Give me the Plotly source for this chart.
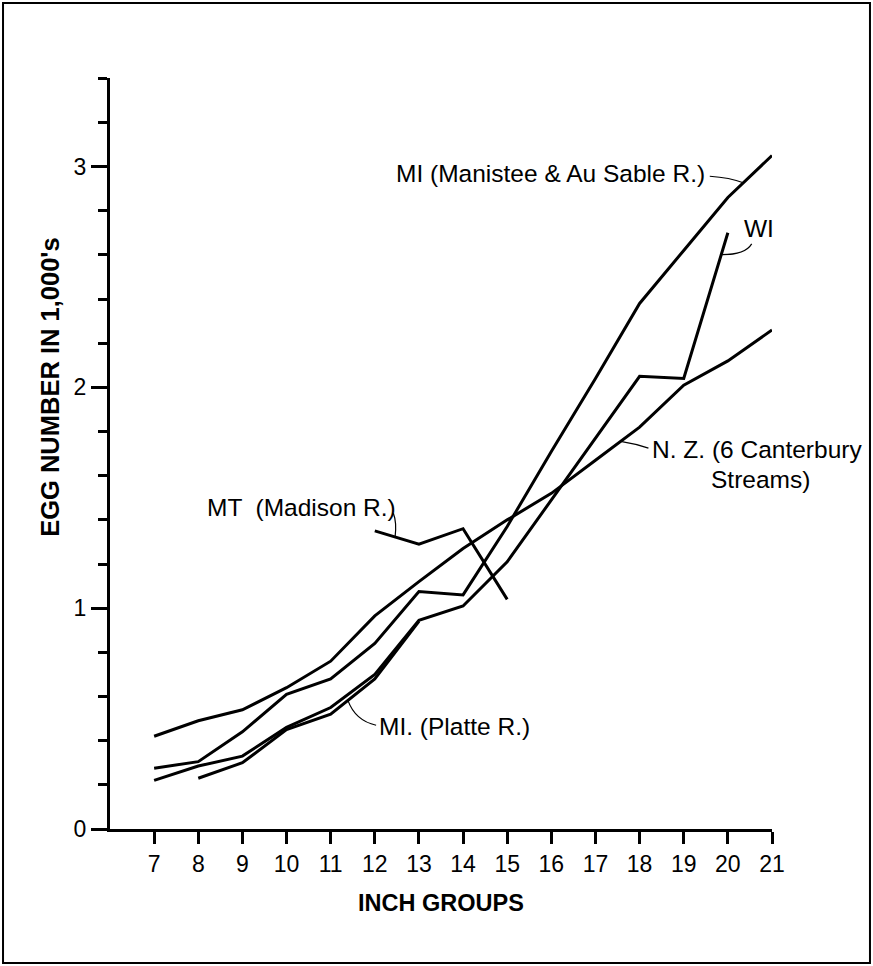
import numpy as np
import plotly.graph_objects as go

# ---- data (egg number in 1,000's by inch group) ----
inch_all = list(range(7, 22))
nz_vals = [0.42, 0.49, 0.54, 0.64, 0.76, 0.965, 1.12, 1.27, 1.40, 1.52, 1.67, 1.82, 2.01, 2.12, 2.26]
mi_manistee_vals = [0.275, 0.305, 0.44, 0.61, 0.68, 0.84, 1.075, 1.06, 1.37, 1.71, 2.04, 2.38, 2.62, 2.86, 3.05]
wi_inch = list(range(7, 21))
wi_vals = [0.22, 0.285, 0.33, 0.46, 0.55, 0.70, 0.945, 1.01, 1.21, 1.49, 1.77, 2.05, 2.04, 2.70]
platte_inch = list(range(8, 14))
platte_vals = [0.23, 0.30, 0.45, 0.52, 0.68, 0.94]
mt_inch = [12, 13, 14, 15]
mt_vals = [1.35, 1.29, 1.36, 1.04]

x_ticks = list(range(7, 22))
y_ticks = [0, 1, 2, 3]

FONT = "Liberation Sans, Arial, sans-serif"
LW = 3

fig = go.Figure()
series = [
    (inch_all, nz_vals, "N.Z."),
    (inch_all, mi_manistee_vals, "MI Manistee"),
    (wi_inch, wi_vals, "WI"),
    (platte_inch, platte_vals, "MI Platte"),
    (mt_inch, mt_vals, "MT"),
]
for xs, ys, name in series:
    fig.add_trace(go.Scatter(x=xs, y=ys, mode="lines", name=name,
                             line=dict(color="black", width=LW),
                             showlegend=False, hoverinfo="skip"))

def on(xs, ys, x):
    return float(np.interp(x, xs, ys))

# text labels
anns = []
def txt(x, y, t, xa="left", ya="middle"):
    anns.append(dict(x=x, y=y, xref="x", yref="y", text=t, showarrow=False,
                     xanchor=xa, yanchor=ya, font=dict(family=FONT, size=24.5, color="black")))

txt(19.53, 2.97, "MI (Manistee &amp; Au Sable R.)", xa="right")
txt(20.32, 2.72, "WI")
txt(18.23, 1.72, "N. Z. (6 Canterbury")
txt(19.58, 1.585, "Streams)")
txt(8.15, 1.458, "MT  (Madison R.)")
txt(12.05, 0.462, "MI. (Platte R.)")

# leader lines (curved)
shapes = []
def leader(x0, y0, cx, cy, x1, y1):
    shapes.append(dict(type="path", xref="x", yref="y",
                       path=f"M {x0},{y0} Q {cx},{cy} {x1},{y1}",
                       line=dict(color="black", width=1.2)))

tx = 20.35
leader(19.59, 2.956, 20.05, 2.95, tx, on(inch_all, mi_manistee_vals, tx))
tx = 19.85
leader(20.54, 2.65, 20.39, 2.60, tx, on(wi_inch, wi_vals, tx))
tx = 17.57
leader(18.2, 1.725, 17.9, 1.745, tx, on(inch_all, nz_vals, tx))
tx = 12.46
leader(12.42, 1.43, 12.5, 1.39, tx, on(mt_inch, mt_vals, tx))
tx = 11.39
leader(12.03, 0.47, 11.56, 0.49, tx, on(platte_inch, platte_vals, tx))

# axis titles
anns.append(dict(x=0.5, y=-0.098, xref="paper", yref="paper", text="<b>INCH GROUPS</b>",
                 showarrow=False, xanchor="center", yanchor="middle",
                 font=dict(family=FONT, size=23.5, color="black")))
anns.append(dict(x=-0.09, y=0.588, xref="paper", yref="paper", text="<b>EGG NUMBER IN 1,000's</b>",
                 showarrow=False, xanchor="center", yanchor="middle", textangle=-90,
                 font=dict(family=FONT, size=25.5, color="black")))

# outer frame
shapes.append(dict(type="rect", xref="paper", yref="paper",
                   x0=-0.1616, x1=1.148, y0=-0.1784, y1=1.0999,
                   line=dict(color="black", width=2)))

fig.update_layout(
    width=873, height=966,
    margin=dict(l=110, r=101, t=78, b=137),
    paper_bgcolor="white", plot_bgcolor="white",
    annotations=anns, shapes=shapes,
    showlegend=False,
    font=dict(family=FONT, color="black"),
)
fig.update_xaxes(range=[6, 21], tickvals=x_ticks, ticktext=[str(v) for v in x_ticks],
                 ticks="outside", ticklen=12, tickwidth=2.5, tickcolor="black",
                 showline=True, linewidth=3, linecolor="black",
                 showgrid=False, zeroline=False,
                 tickfont=dict(family=FONT, size=23, color="black"))
fig.update_yaxes(range=[0, 3.401], tickvals=y_ticks, ticktext=[str(v) for v in y_ticks],
                 ticks="outside", ticklen=16, tickwidth=2.5, tickcolor="black",
                 minor=dict(dtick=0.2, tick0=0, ticks="outside", ticklen=9, tickwidth=2.5, tickcolor="black", showgrid=False),
                 showline=True, linewidth=3, linecolor="black",
                 showgrid=False, zeroline=False,
                 tickfont=dict(family=FONT, size=23, color="black"))

fig.write_html("out.html", config={"displayModeBar": False},
               post_script="document.body.style.margin='0px';document.body.style.overflow='hidden';")
